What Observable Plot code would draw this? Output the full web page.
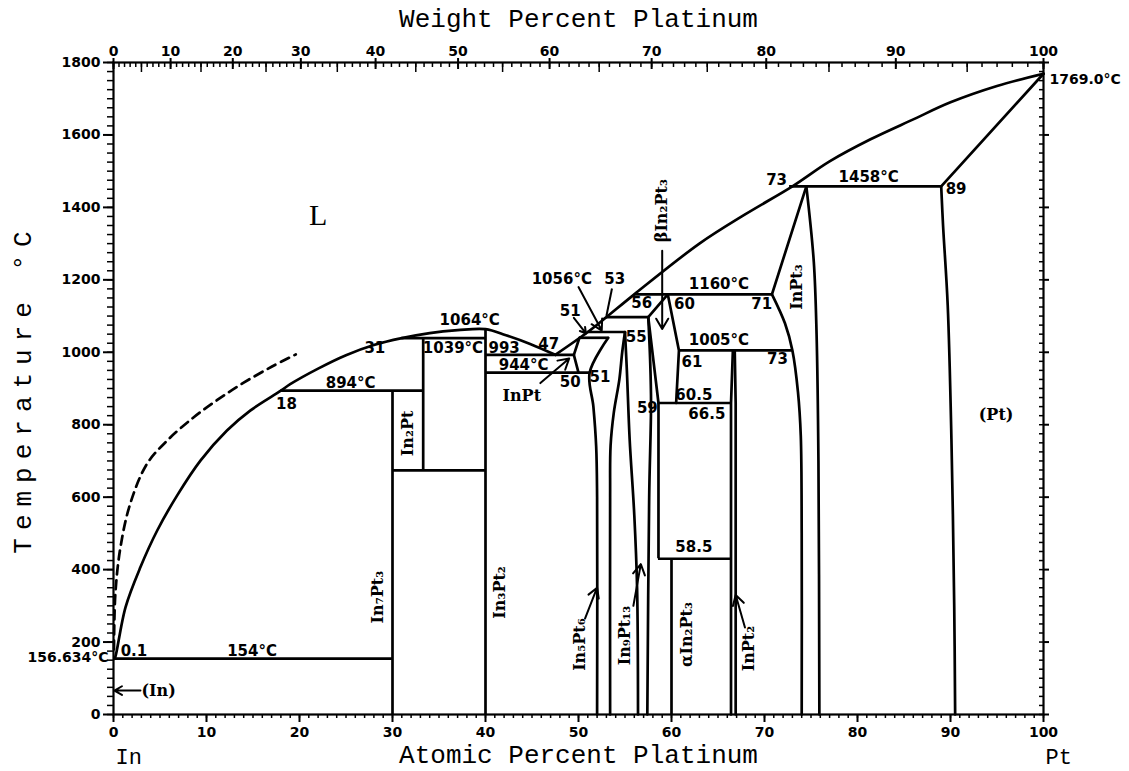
<!DOCTYPE html>
<html>
<head>
<meta charset="utf-8">
<script src="https://cdn.jsdelivr.net/npm/d3@7"></script>
<script src="https://cdn.jsdelivr.net/npm/@observablehq/plot@0.6"></script>
<style>
  html, body { margin: 0; padding: 0; background: #fff; }
  #chart svg { display: block; }
</style>
</head>
<body>
<div id="chart"></div>
<script>
// In–Pt phase diagram: temperature (°C) versus atomic percent platinum.

// Atomic masses used to place the weight-percent scale along the top.
const massIn = 114.82;
const massPt = 195.08;
const weightTicks = [0, 10, 20, 30, 40, 50, 60, 70, 80, 90, 100];

// Liquidus, In side up to the In3Pt2 maximum and the 993 °C eutectic.
const liquidusLeft = [
  [0.1, 154], [0.2, 159], [1.29, 296], [2.9, 407], [4.7, 508], [6.85, 605],
  [9.35, 701], [12.2, 784], [14.7, 839], [18, 894], [19, 912], [22, 955],
  [25, 992], [28, 1020], [31, 1039], [34, 1053], [37, 1061], [40, 1064],
  [42.2, 1047], [44.8, 1023], [47.5, 993]
];
// Liquidus from the eutectic up to the melting point of Pt.
const liquidusRight = [
  [47.5, 993], [51, 1056], [53, 1097], [56, 1160], [63, 1300], [68, 1382],
  [73, 1458], [77, 1527], [81.4, 1588], [86, 1643], [90, 1690], [95, 1735],
  [100, 1769]
];
// Dashed (metastable) liquidus near In.
const liquidusDashed = [
  [0.05, 180], [0.2, 333], [0.75, 462], [1.8, 582], [3.6, 692], [5.8, 757],
  [8.6, 820], [11.2, 869], [14.0, 916], [17, 960], [19.6, 994]
];

// Curved and sloping phase boundaries (composition, temperature).
const inPtLeftUpper = [[49.5, 993], [50.1, 1040]];
const inPtLeftLower = [[49.5, 993], [50, 944]];
const in5Pt6Left = [[53.2, 1040], [51.2, 944], [51.6, 850], [51.9, 740], [52, 600], [52, 0]];
const in5Pt6Right = [[55, 1056], [54.7, 1000], [54.4, 926], [53.8, 834], [53.45, 742], [53.4, 600], [53.4, 0]];
const in9Pt13Left = [[55, 1056], [55.2, 950], [55.5, 760], [56, 550], [56.3, 350], [56.4, 0]];
const in9Pt13Right = [[57.5, 1097], [57.7, 980], [57.8, 860], [57.6, 600], [57.4, 0]];
const betaLeft = [[57.5, 1097], [58.6, 860]];
const betaTop = [[57.5, 1097], [59.6, 1160]];
const betaRight = [[59.6, 1160], [60.8, 1005], [60.5, 860]];
const inPt2Left = [[66.4, 0], [66.4, 860], [66.6, 1005]];
const inPt2Right = [[66.9, 0], [66.9, 860], [66.8, 1005]];
const inPt3Left = [[74.5, 1458], [70.8, 1160], [72.2, 1080], [73, 1005], [73.6, 890], [73.9, 770], [74, 500], [74, 0]];
const inPt3Right = [[74.5, 1458], [75.3, 1250], [75.6, 1050], [75.8, 700], [75.9, 0]];
const ptSolidus = [[89, 1458], [100, 1769]];
const ptSolvus = [[89, 1458], [89.2, 1350], [89.7, 1130], [90.1, 760], [90.4, 300], [90.5, 0]];

// Invariant (horizontal) reactions.
const isothermT = [154, 894, 674, 1039, 993, 944, 1040, 1056, 1097, 1160, 1005, 860, 430, 1458];
const isothermFrom = [0.1, 18, 30, 31, 40, 40, 50.1, 51, 53, 56, 60.8, 58.6, 58.6, 72.7];
const isothermTo = [30, 33.3, 40, 40, 49.5, 51.2, 53.2, 55, 57.5, 70.8, 73, 66.5, 66.4, 89];

// Line compounds (vertical boundaries).
const compoundX = [30, 33.3, 40, 60, 58.6];
const compoundFrom = [0, 674, 0, 0, 430];
const compoundTo = [894, 1039, 1064, 430, 860];

// Numeric annotations: text, composition, temperature.
const numberText = ["0.1", "154°C", "18", "894°C", "31", "1039°C", "1064°C", "993", "47", "944°C",
  "50", "51", "51", "1056°C", "53", "55", "56", "60", "1160°C", "1005°C", "61", "60.5", "66.5",
  "59", "58.5", "71", "73", "73", "1458°C", "89"];
const numberX = [2.2, 14.9, 18.6, 25.5, 28.1, 36.5, 38.3, 42.0, 46.8, 44.1,
  49.1, 52.3, 49.1, 48.2, 53.9, 56.2, 56.8, 61.4, 65.1, 65.1, 62.2, 62.4, 63.8,
  57.4, 62.4, 69.7, 71.4, 71.3, 81.2, 90.6];
const numberT = [176, 176, 858, 915, 1010, 1010, 1088, 1010, 1023, 964,
  917, 931, 1113, 1203, 1203, 1042, 1136, 1134, 1189, 1033, 973, 881, 828,
  847, 462, 1132, 980, 1474, 1483, 1451];

// Phase names written horizontally.
const phaseText = ["L", "InPt", "(Pt)", "(In)"];
const phaseX = [22, 43.9, 94.9, 2.9];
const phaseT = [1378, 881, 826, 66];

// Phase names written vertically.
const verticalText = ["In₇Pt₃", "In₂Pt", "In₃Pt₂", "In₅Pt₆", "In₉Pt₁₃", "αIn₂Pt₃", "InPt₂", "InPt₃", "βIn₂Pt₃"];
const verticalX = [28.4, 31.7, 41.5, 50.1, 55.0, 61.6, 68.3, 73.5, 59.0];
const verticalT = [324, 776, 337, 193, 218, 221, 182, 1180, 1391];

// Leader arrows: start and end (composition, temperature).
const arrowX1 = [2.9, 45.9, 49.5, 50.0, 59.0, 50.7, 55.9, 67.9];
const arrowT1 = [66, 915, 1095, 1180, 1280, 265, 300, 240];
const arrowX2 = [0.1, 49.0, 50.8, 52.5, 59.0, 52.0, 56.7, 66.9];
const arrowT2 = [66, 983, 1052, 1060, 1064, 350, 415, 330];
// Plain leader line for the 53 at.% liquid.
const leaderX = [[53.6, 53.0]];
const leaderT = [[1176, 1100]];

// End-member melting points written beside the temperature axes.
const meltText = ["156.634°C", "1769.0°C"];
const meltX = [0, 100];
const meltT = [156.634, 1769];

// ---- tables built from the arrays above ----
const toPoint = (id) => ([x, T]) => ({id, x, T});
const curved = [
  ...liquidusLeft.map(toPoint("liqL")),
  ...liquidusRight.map(toPoint("liqR")),
  ...in5Pt6Left.map(toPoint("in5l")),
  ...in5Pt6Right.map(toPoint("in5r")),
  ...in9Pt13Left.map(toPoint("in9l")),
  ...in9Pt13Right.map(toPoint("in9r")),
  ...inPt3Left.slice(1).map(toPoint("in3l")),
  ...inPt3Right.map(toPoint("in3r")),
  ...ptSolvus.map(toPoint("ptsv"))
];
const straight = [
  ...inPtLeftUpper.map(toPoint("ipu")),
  ...inPtLeftLower.map(toPoint("ipl")),
  ...betaLeft.map(toPoint("bl")),
  ...betaTop.map(toPoint("bt")),
  ...betaRight.map(toPoint("br")),
  ...inPt2Left.map(toPoint("p2l")),
  ...inPt2Right.map(toPoint("p2r")),
  ...inPt3Left.slice(0, 2).map(toPoint("in3a")),
  ...ptSolidus.map(toPoint("ptsd"))
];
const dashed = liquidusDashed.map(toPoint("dash"));
const isotherms = isothermT.map((T, i) => ({T, x1: isothermFrom[i], x2: isothermTo[i]}));
const compounds = compoundX.map((x, i) => ({x, y1: compoundFrom[i], y2: compoundTo[i]}));
const numbers = numberText.map((text, i) => ({text, x: numberX[i], T: numberT[i]}));
const phases = phaseText.map((text, i) => ({text, x: phaseX[i], T: phaseT[i]}));
const verticals = verticalText.map((text, i) => ({text, x: verticalX[i], T: verticalT[i]}));
const arrows = arrowX1.map((x1, i) => ({x1, y1: arrowT1[i], x2: arrowX2[i], y2: arrowT2[i]}));
const leaders = leaderX.map((xs, i) => ({x1: xs[0], y1: leaderT[i][0], x2: xs[1], y2: leaderT[i][1]}));
const melts = meltText.map((text, i) => ({text, x: meltX[i], T: meltT[i]}));

// weight % Pt -> atomic % Pt
const atomicFromWeight = (w) => {
  const nPt = w / massPt, nIn = (100 - w) / massIn;
  return 100 * nPt / (nPt + nIn);
};
const weightMajorPos = weightTicks.map(atomicFromWeight);
const weightLabel = new Map(weightMajorPos.map((p, i) => [p, String(weightTicks[i])]));
const weightMinorPos = d3.range(0, 101, 1).map(atomicFromWeight);
const weightMidPos = d3.range(5, 100, 10).map(atomicFromWeight);

const blank = () => "";
const lw = 2.7;
const sansBold = {fontFamily: "DejaVu Sans", fontWeight: "bold"};
const titleFont = {fontFamily: "Liberation Mono", fontSize: 26, fontWeight: "normal", lineAnchor: "middle", textAnchor: "middle"};

const chart = Plot.plot({
  width: 1129,
  height: 771,
  marginLeft: 113,
  marginRight: 86,
  marginTop: 62,
  marginBottom: 57,
  x: {domain: [0, 100]},
  y: {domain: [0, 1800]},
  style: {background: "#fff", color: "#000", fontFamily: "DejaVu Sans", fontSize: "14px", fontWeight: "bold"},
  marks: [
    // axes: atomic percent (bottom), temperature (left/right), weight percent (top)
    Plot.axisX({anchor: "bottom", ticks: d3.range(0, 101, 1), tickSize: 4, tickFormat: blank, label: null, strokeWidth: 1.5}),
    Plot.axisX({anchor: "bottom", ticks: d3.range(0, 101, 10), tickSize: 8, tickPadding: 5, tickFormat: d3.format("d"), label: null, strokeWidth: 2}),
    Plot.axisY({anchor: "left", ticks: d3.range(0, 1801, 25), tickSize: 6, tickFormat: blank, label: null, strokeWidth: 1.5}),
    Plot.axisY({anchor: "left", ticks: d3.range(0, 1801, 200), tickSize: 10, tickPadding: 3, tickFormat: d3.format("d"), label: null, strokeWidth: 2}),
    Plot.axisY({anchor: "right", ticks: d3.range(0, 1801, 25), tickSize: -5, tickFormat: blank, label: null, strokeWidth: 1.5}),
    Plot.axisY({anchor: "right", ticks: d3.range(0, 1801, 200), tickSize: 5, tickFormat: blank, label: null, strokeWidth: 2}),
    Plot.axisX({anchor: "top", ticks: weightMinorPos, tickSize: -4, tickFormat: blank, label: null, strokeWidth: 1.5}),
    Plot.axisX({anchor: "top", ticks: weightMidPos, tickSize: -9, tickFormat: blank, label: null, strokeWidth: 1.5}),
    Plot.axisX({anchor: "top", ticks: weightMajorPos, tickSize: -6, tickFormat: blank, label: null, strokeWidth: 2}),
    Plot.axisX({anchor: "top", ticks: weightMajorPos, tickSize: 5, tickPadding: 2, tickFormat: (d) => weightLabel.get(d), label: null, strokeWidth: 2}),
    Plot.frame({strokeWidth: 2.2}),

    // axis titles
    Plot.text(["Atomic Percent Platinum"], {frameAnchor: "bottom", dy: 40, ...titleFont}),
    Plot.text(["Weight Percent Platinum"], {frameAnchor: "top", dy: -44, ...titleFont}),
    Plot.text(["Temperature °C"], {frameAnchor: "left", dx: -91, rotate: -90, ...titleFont}),
    Plot.text([{x: 0, t: "In"}, {x: 100, t: "Pt"}], {x: "x", text: "t", frameAnchor: "bottom", ...titleFont, dy: 42, dx: 2, textAnchor: "start", fontSize: 22}),

    // phase boundaries
    Plot.ruleY(isotherms, {y: "T", x1: "x1", x2: "x2", strokeWidth: lw}),
    Plot.ruleX(compounds, {x: "x", y1: "y1", y2: "y2", strokeWidth: lw}),
    Plot.line(curved, {x: "x", y: "T", z: "id", curve: "catmull-rom", strokeWidth: lw}),
    Plot.line(straight, {x: "x", y: "T", z: "id", curve: "linear", strokeWidth: lw}),
    Plot.line(dashed, {x: "x", y: "T", curve: "catmull-rom", strokeWidth: lw, strokeDasharray: "9,6"}),

    // leaders
    Plot.arrow(arrows, {x1: "x1", y1: "y1", x2: "x2", y2: "y2", strokeWidth: 2, headLength: 9}),
    Plot.link(leaders, {x1: "x1", y1: "y1", x2: "x2", y2: "y2", strokeWidth: 2}),

    // annotations
    Plot.text(numbers, {x: "x", y: "T", text: "text", fontSize: 15, ...sansBold}),
    Plot.text(phases.slice(0, 1), {x: "x", y: "T", text: "text", fontSize: 30, fontFamily: "Liberation Serif", fontWeight: "normal"}),
    Plot.text(phases.slice(1, 3), {x: "x", y: "T", text: "text", fontSize: 16, fontFamily: "DejaVu Serif", fontWeight: "bold"}),
    Plot.text(phases.slice(3), {x: "x", y: "T", text: "text", fontSize: 16, textAnchor: "start", dx: 1, fontFamily: "DejaVu Serif", fontWeight: "bold"}),
    Plot.text(verticals, {x: "x", y: "T", text: "text", rotate: -90, fontSize: 16, fontFamily: "DejaVu Serif", fontWeight: "bold"}),
    Plot.text(melts.slice(0, 1), {x: "x", y: "T", text: "text", textAnchor: "end", dx: -5, fontSize: 14, ...sansBold}),
    Plot.text(melts.slice(1), {x: "x", y: "T", text: "text", textAnchor: "start", dx: 6, dy: 6, fontSize: 14, ...sansBold})
  ]
});

// the rotated temperature title is set with wider letter spacing
d3.select(chart).selectAll("text")
  .filter(function () { return this.textContent === "Temperature °C"; })
  .attr("letter-spacing", 8);

document.getElementById("chart").appendChild(chart);
</script>
</body>
</html>
